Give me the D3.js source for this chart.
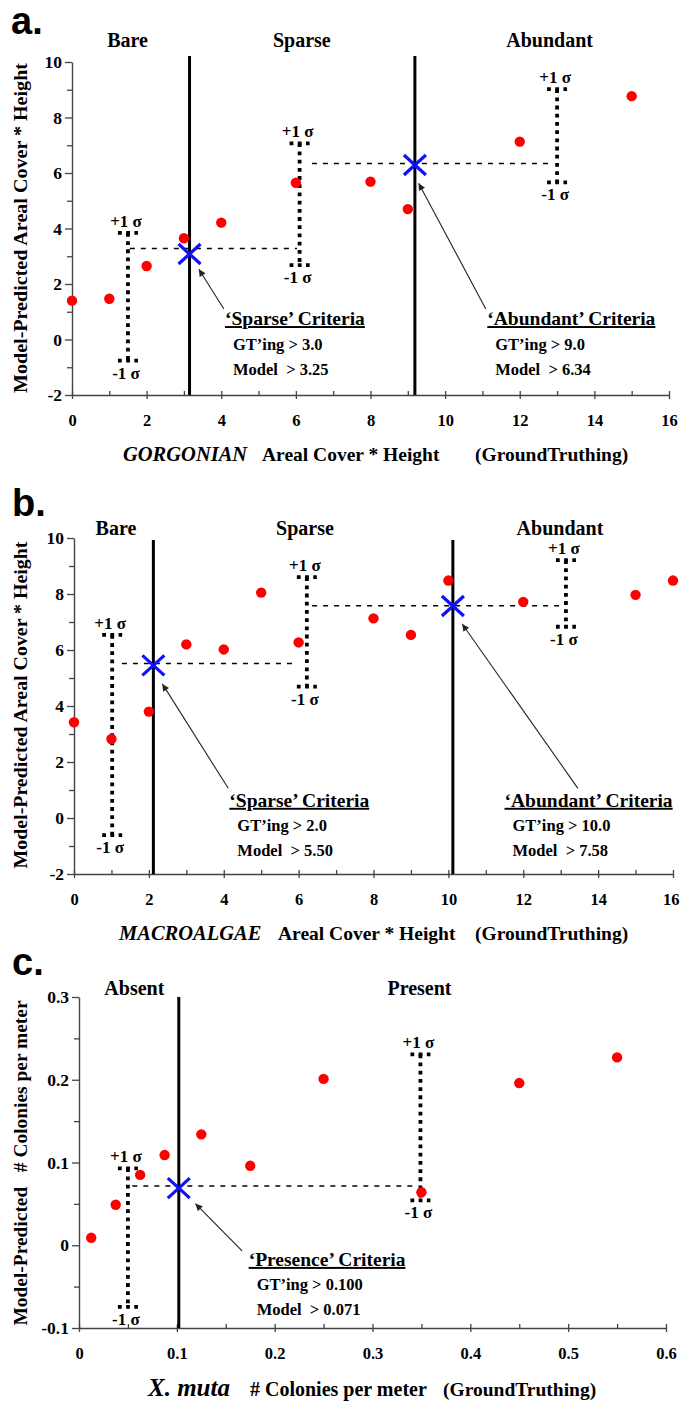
<!DOCTYPE html>
<html><head><meta charset="utf-8">
<script src="https://cdn.jsdelivr.net/npm/d3@7"></script>
<style>
body{margin:0;background:#fff}
svg{display:block}
text{font-family:"Liberation Serif","Times New Roman",serif;font-weight:bold;fill:#000}
</style>
</head><body><svg id="c" width="680" height="1404"></svg>
<script>
// ---------------- DATA ----------------
// Panel a: Gorgonian
const gorgX = [0, 1, 2, 3, 4, 6, 8, 9, 12, 15];
const gorgY = [1.40, 1.47, 2.65, 3.65, 4.21, 5.65, 5.69, 4.70, 7.13, 8.77];
const gorgBarX = [1.5, 6.1, 13.0];
const gorgBarLo = [-0.76, 2.68, 5.66];
const gorgBarHi = [3.84, 7.07, 9.02];
const gorgThreshX = [3.15, 9.19];
const gorgCrossY = [3.08, 6.29];
const gorgModelCut = [3.28, 6.34];
const gorgRegions = ["Bare", "Sparse", "Abundant"];
const gorgCriteria = [["‘Sparse’ Criteria", "GT’ing > 3.0", "Model  > 3.25"],
                      ["‘Abundant’ Criteria", "GT’ing > 9.0", "Model  > 6.34"]];

// Panel b: Macroalgae
const macroX = [0, 1, 2, 3, 4, 5, 6, 8, 9, 10, 12, 15, 16];
const macroY = [3.42, 2.82, 3.80, 6.20, 6.02, 8.05, 6.27, 7.13, 6.54, 8.48, 7.72, 7.97, 8.48];
const macroBarX = [1.02, 6.22, 13.14];
const macroBarLo = [-0.61, 4.69, 6.83];
const macroBarHi = [6.54, 8.60, 9.21];
const macroThreshX = [2.12, 10.12];
const macroCrossY = [5.45, 7.57];
const macroModelCut = [5.52, 7.58];
const macroRegions = ["Bare", "Sparse", "Abundant"];
const macroCriteria = [["‘Sparse’ Criteria", "GT’ing > 2.0", "Model  > 5.50"],
                       ["‘Abundant’ Criteria", "GT’ing > 10.0", "Model  > 7.58"]];

// Panel c: X. muta
const mutaX = [0.0125, 0.0375, 0.0625, 0.0875, 0.125, 0.175, 0.25, 0.35, 0.45, 0.55];
const mutaY = [0.009, 0.049, 0.085, 0.109, 0.134, 0.096, 0.201, 0.064, 0.196, 0.227];
const mutaBarX = [0.050, 0.349];
const mutaBarLo = [-0.0745, 0.0543];
const mutaBarHi = [0.093, 0.2307];
const mutaThreshX = [0.102];
const mutaCrossY = [0.069];
const mutaModelCut = [0.0716];
const mutaRegions = ["Absent", "Present"];
const mutaCriteria = [["‘Presence’ Criteria", "GT’ing > 0.100", "Model  > 0.071"]];

// Tick values / labels
const abXMajor = [0, 2, 4, 6, 8, 10, 12, 14, 16];
const abXMinor = [1, 3, 5, 7, 9, 11, 13, 15];
const abYMajor = [-2, 0, 2, 4, 6, 8, 10];
const abYMinor = [-1, 1, 3, 5, 7, 9];
const cXMajor = [0, 0.1, 0.2, 0.3, 0.4, 0.5, 0.6];
const cXLabels = ["0", "0.1", "0.2", "0.3", "0.4", "0.5", "0.6"];
const cXMinor = [0.05, 0.15, 0.25, 0.35, 0.45, 0.55];
const cYMajor = [-0.1, 0, 0.1, 0.2, 0.3];
const cYLabels = ["-0.1", "0", "0.1", "0.2", "0.3"];
const cYMinor = [-0.05, 0.05, 0.15, 0.25];

// ---------------- DRAW ----------------
const W = 680;
const svg = d3.select("#c");
svg.append("rect").attr("width", 680).attr("height", 1404).attr("fill", "#fff");
const defs = svg.append("defs");
defs.append("marker").attr("id", "ah").attr("viewBox", "0 0 10 10")
  .attr("refX", 10).attr("refY", 5).attr("markerWidth", 10).attr("markerHeight", 7)
  .attr("markerUnits", "userSpaceOnUse").attr("orient", "auto")
  .append("path").attr("d", "M0,0L10,5L0,10z").attr("fill", "#222");

const AX = "#444";

function panel(c) {
  const x = d3.scaleLinear().domain(c.xDomain).range([c.left, c.right]);
  const y = d3.scaleLinear().domain(c.yDomain).range([c.bottom, c.top]);
  const g = svg.append("g");

  // y axis
  const ya = g.append("g").attr("transform", `translate(${c.left},0)`)
    .call(d3.axisLeft(y).tickValues(c.yMajor).tickSize(7).tickSizeOuter(0).tickPadding(3)
      .tickFormat((d, i) => c.yLabels[i]));
  ya.select(".domain").attr("stroke", AX).attr("stroke-width", 1.4);
  ya.selectAll(".tick line").attr("stroke", AX).attr("stroke-width", 1.3);
  ya.selectAll("text").attr("font-size", 17.5).attr("font-family", null);
  g.append("g").attr("transform", `translate(${c.left},0)`)
    .call(d3.axisLeft(y).tickValues(c.yMinor).tickSize(5).tickFormat(""))
    .call(s => s.select(".domain").remove())
    .selectAll("line").attr("stroke", AX).attr("stroke-width", 1.3);

  // x axis
  const xa = g.append("g").attr("transform", `translate(0,${c.bottom})`)
    .call(d3.axisBottom(x).tickValues(c.xMajor).tickSize(4).tickSizeOuter(0)
      .tickFormat((d, i) => c.xLabels[i]));
  xa.select(".domain").attr("stroke", AX).attr("stroke-width", 1.4);
  xa.selectAll(".tick line").attr("y1", -4).attr("y2", 4).attr("stroke", AX).attr("stroke-width", 1.3);
  xa.selectAll("text").attr("y", 31).attr("dy", 0).attr("font-size", 16.5).attr("font-family", null);
  // keep tick labels inside the page
  xa.selectAll(".tick").each(function(d) {
    const t = d3.select(this).select("text");
    const w = t.node().getComputedTextLength();
    const over = x(d) + w / 2 - (W - 1);
    if (over > 0) t.attr("x", -over);
  });
  g.append("g").attr("transform", `translate(0,${c.bottom})`)
    .call(d3.axisBottom(x).tickValues(c.xMinor).tickSize(-4).tickFormat(""))
    .call(s => s.select(".domain").remove())
    .selectAll("line").attr("stroke", AX).attr("stroke-width", 1.3);

  // threshold vertical lines
  g.selectAll(".thr").data(c.thrX).join("line")
    .attr("x1", d => x(d)).attr("x2", d => x(d))
    .attr("y1", y(c.thrTop)).attr("y2", c.bottom)
    .attr("stroke", "#000").attr("stroke-width", 3);

  // dashed model-cut lines
  c.dash.forEach((dd, i) => {
    g.append("line").attr("x1", x(dd[0])).attr("x2", x(dd[1]))
      .attr("y1", y(c.cut[i])).attr("y2", y(c.cut[i]))
      .attr("stroke", "#000").attr("stroke-width", 1.6).attr("stroke-dasharray", "5 6");
  });

  // error bars (dotted)
  c.barX.forEach((bx, i) => {
    const px = x(bx), hi = y(c.barHi[i]), lo = y(c.barLo[i]);
    const st = s => s.attr("stroke", "#000").attr("stroke-width", 3.8).attr("stroke-dasharray", "3.8 4.4");
    g.append("line").attr("x1", px).attr("x2", px).attr("y1", hi).attr("y2", lo).call(st);
    g.append("line").attr("x1", px - 10).attr("x2", px + 10).attr("y1", hi).attr("y2", hi).call(st);
    g.append("line").attr("x1", px - 10).attr("x2", px + 10).attr("y1", lo).attr("y2", lo).call(st);
    g.append("text").attr("x", px - 2).attr("y", hi - 6).attr("text-anchor", "middle")
      .attr("font-size", 17).style("white-space", "pre").text("+1 σ");
    g.append("text").attr("x", px - 2).attr("y", lo + 18).attr("text-anchor", "middle")
      .attr("font-size", 17).style("white-space", "pre").text("-1 σ");
  });

  // points
  g.selectAll(".pt").data(c.px.map((d, i) => [d, c.py[i]])).join("circle")
    .attr("cx", d => x(d[0])).attr("cy", d => y(d[1])).attr("r", 5.2).attr("fill", "#ff0000");

  // blue crosses
  c.thrX.forEach((tx, i) => {
    const cx = x(tx), cy = y(c.crossY[i]);
    g.append("path").attr("d", `M${cx - 11},${cy - 10}L${cx + 11},${cy + 10}M${cx - 11},${cy + 10}L${cx + 11},${cy - 10}`)
      .attr("stroke", "#1010ff").attr("stroke-width", 3.2).attr("fill", "none");
  });

  // arrows
  c.arrows.forEach(a => {
    g.append("line").attr("x1", x(a[0])).attr("y1", y(a[1])).attr("x2", x(a[2])).attr("y2", y(a[3]))
      .attr("stroke", "#222").attr("stroke-width", 1.1).attr("marker-end", "url(#ah)");
  });

  // criteria boxes
  c.criteria.forEach((cr, i) => {
    const p = c.critPos[i];
    g.append("text").attr("x", x(p[0])).attr("y", y(p[1])).attr("font-size", 19.5)
      .attr("text-decoration", "underline").text(cr[0]);
    g.append("text").attr("x", x(p[0]) + 8).attr("y", y(p[1]) + 24.5).attr("font-size", 16.5)
      .style("white-space", "pre").text(cr[1]);
    g.append("text").attr("x", x(p[0]) + 8).attr("y", y(p[1]) + 49.5).attr("font-size", 16.5)
      .style("white-space", "pre").text(cr[2]);
  });

  // region labels
  c.regions.forEach((r, i) => {
    g.append("text").attr("x", x(c.regionX[i])).attr("y", c.regionY).attr("text-anchor", "middle")
      .attr("font-size", 20).text(r);
  });

  // panel letter
  g.append("text").attr("x", c.letterX).attr("y", c.letterY).attr("font-size", 38)
    .style("font-family", "'Liberation Sans',Arial,sans-serif").text(c.letter);

  // y title
  g.append("text").attr("transform", `translate(${c.yTitleX},${c.yTitleY}) rotate(-90)`)
    .attr("text-anchor", "middle").attr("font-size", 19.5).style("white-space", "pre")
    .attr("textLength", c.yTitleLen).attr("lengthAdjust", "spacingAndGlyphs").text(c.yTitle);

  // x title
  const xt = g.append("text").attr("y", c.xTitleY).attr("font-size", 19.5).style("white-space", "pre");
  c.xTitle.forEach(t => {
    const ts = xt.append("tspan").attr("x", t.x).text(t.s);
    if (t.it) ts.style("font-style", "italic");
    if (t.fs) ts.attr("font-size", t.fs);
  });
}

panel({
  left: 72, right: 669, top: 62, bottom: 395,
  xDomain: [0, 16], yDomain: [-2, 10],
  xMajor: abXMajor, xLabels: abXMajor.map(String), xMinor: abXMinor,
  yMajor: abYMajor, yLabels: abYMajor.map(String), yMinor: abYMinor,
  px: gorgX, py: gorgY,
  barX: gorgBarX, barLo: gorgBarLo, barHi: gorgBarHi,
  thrX: gorgThreshX, thrTop: 10.22, crossY: gorgCrossY, cut: gorgModelCut,
  dash: [[1.55, 6.03], [6.43, 12.8]],
  arrows: [[4.07, 1.10, 3.40, 2.53], [11.09, 1.10, 9.29, 5.63]],
  criteria: gorgCriteria, critPos: [[4.10, 0.52], [11.13, 0.52]],
  regions: gorgRegions, regionX: [1.49, 6.16, 12.8], regionY: 47,
  letter: "a.", letterX: 11, letterY: 34,
  yTitle: "Model-Predicted Areal Cover * Height", yTitleX: 27, yTitleY: 228, yTitleLen: 330,
  xTitleY: 461,
  xTitle: [{s: "GORGONIAN", x: 123, it: true, fs: 20.5}, {s: "Areal Cover * Height", x: 262}, {s: "(GroundTruthing)", x: 475}]
});

panel({
  left: 74, right: 673, top: 538, bottom: 874,
  xDomain: [0, 16], yDomain: [-2, 10],
  xMajor: abXMajor, xLabels: abXMajor.map(String), xMinor: abXMinor,
  yMajor: abYMajor, yLabels: abYMajor.map(String), yMinor: abYMinor,
  px: macroX, py: macroY,
  barX: macroBarX, barLo: macroBarLo, barHi: macroBarHi,
  thrX: macroThreshX, thrTop: 9.93, crossY: macroCrossY, cut: macroModelCut,
  dash: [[1.28, 5.85], [6.36, 12.98]],
  arrows: [[4.12, 1.06, 2.36, 4.79], [13.46, 1.06, 10.37, 6.93]],
  criteria: macroCriteria, critPos: [[4.15, 0.40], [11.5, 0.40]],
  regions: macroRegions, regionX: [1.12, 6.17, 12.98], regionY: 535,
  letter: "b.", letterX: 12, letterY: 516,
  yTitle: "Model-Predicted Areal Cover * Height", yTitleX: 27, yTitleY: 705, yTitleLen: 327,
  xTitleY: 940,
  xTitle: [{s: "MACROALGAE", x: 119, it: true, fs: 20.5}, {s: "Areal Cover * Height", x: 278}, {s: "(GroundTruthing)", x: 475}]
});

panel({
  left: 79, right: 666, top: 997, bottom: 1328,
  xDomain: [0, 0.6], yDomain: [-0.1, 0.3],
  xMajor: cXMajor, xLabels: cXLabels, xMinor: cXMinor,
  yMajor: cYMajor, yLabels: cYLabels, yMinor: cYMinor,
  px: mutaX, py: mutaY,
  barX: mutaBarX, barLo: mutaBarLo, barHi: mutaBarHi,
  thrX: mutaThreshX, thrTop: 0.3, crossY: mutaCrossY, cut: mutaModelCut,
  dash: [[0.0545, 0.347]],
  arrows: [[0.1667, -0.0069, 0.119, 0.0502]],
  criteria: mutaCriteria, critPos: [[0.1734, -0.025]],
  regions: mutaRegions, regionX: [0.0566, 0.348], regionY: 995,
  letter: "c.", letterX: 12, letterY: 975,
  yTitle: "Model-Predicted   # Colonies per meter", yTitleX: 27, yTitleY: 1163, yTitleLen: 325,
  xTitleY: 1396,
  xTitle: [{s: "X. muta", x: 148, it: true, fs: 25}, {s: "# Colonies per meter", x: 250, fs: 20}, {s: "(GroundTruthing)", x: 443}]
});
</script>
</body></html>
